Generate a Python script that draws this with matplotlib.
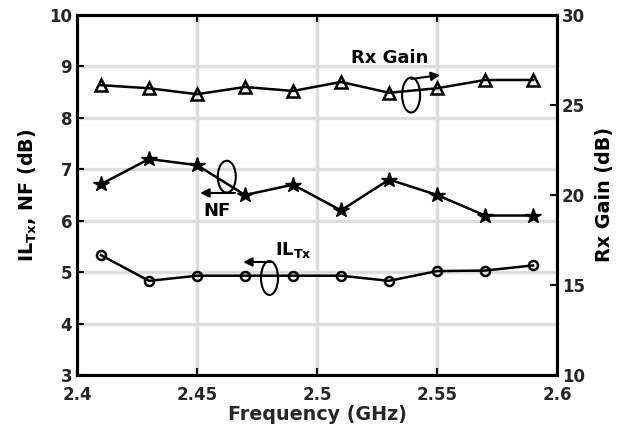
import matplotlib
matplotlib.use("Agg")
import matplotlib.pyplot as plt
from matplotlib.patches import Ellipse

freq = [2.41, 2.43, 2.45, 2.47, 2.49, 2.51, 2.53, 2.55, 2.57, 2.59]
rx_gain = [26.1, 25.93, 25.6, 26.0, 25.78, 26.28, 25.68, 25.93, 26.39, 26.39]
nf = [6.71, 7.2, 7.08, 6.5, 6.7, 6.2, 6.8, 6.5, 6.1, 6.1]
il_tx = [5.33, 4.83, 4.93, 4.93, 4.93, 4.93, 4.83, 5.02, 5.03, 5.13]

xticks = [2.4, 2.45, 2.5, 2.55, 2.6]
xtick_labels = ['2.4', '2.45', '2.5', '2.55', '2.6']
yticks_left = [3, 4, 5, 6, 7, 8, 9, 10]
yticks_right = [10, 15, 20, 25, 30]

plt.rcParams['font.family'] = ['DejaVu Sans']
plt.rcParams['font.weight'] = 'bold'
plt.rcParams['mathtext.default'] = 'bf'

tc = '#262626'
fig = plt.figure(figsize=(6.21, 4.29), dpi=100)
ax = fig.add_axes([0.124, 0.126, 0.773, 0.839])
ax2 = ax.twinx()

ax.set_xlim(2.4, 2.6)
ax.set_ylim(3, 10)
ax2.set_ylim(10, 30)
ax.set_xticks(xticks)
ax.set_xticklabels(xtick_labels)
ax.set_yticks(yticks_left)
ax2.set_yticks(yticks_right)

ax.grid(True, color='#dddddd', lw=2.5, zorder=0)
ax.set_axisbelow(True)

for a in (ax, ax2):
    for s in a.spines.values():
        s.set_linewidth(2.2)
        s.set_color('black')
    a.tick_params(direction='in', length=5, width=1.5, labelsize=12, labelcolor=tc, colors='black')
    for lab in a.get_xticklabels() + a.get_yticklabels():
        lab.set_fontweight('bold')
ax.tick_params(top=True)
ax.tick_params(axis='x', pad=8)

ax.plot(freq, nf, color='k', lw=1.8, marker='*', ms=11.5, mfc='k', mec='k', zorder=5)
ax.plot(freq, il_tx, color='k', lw=1.8, marker='o', ms=6.5, mfc='none', mec='k', mew=1.8, zorder=5)
ax2.plot(freq, rx_gain, color='k', lw=1.8, marker='^', ms=8, mfc='none', mec='k', mew=1.8, zorder=5)

ax.set_xlabel('Frequency (GHz)', fontsize=13.8, fontweight='bold', color=tc, labelpad=1)
ax.set_ylabel(r'IL$_{\mathbf{Tx}}$, NF (dB)', fontsize=13.8, fontweight='bold', color='black', labelpad=7)
ax2.set_ylabel('Rx Gain (dB)', fontsize=13.8, fontweight='bold', color='black', labelpad=7)

# annotations
arrow_kw = dict(arrowstyle='-|>', lw=1.5, color='k', mutation_scale=13, shrinkA=0, shrinkB=0)
ax.add_patch(Ellipse((2.4624, 6.856), 0.0075, 0.62, fill=False, lw=1.5, ec='k', zorder=6))
ax.annotate('', xy=(2.4513, 6.539), xytext=(2.4658, 6.539), arrowprops=arrow_kw, zorder=6)
ax.text(2.4583, 6.19, 'NF', fontsize=13, fontweight='bold', ha='center', va='center')

ax.add_patch(Ellipse((2.4802, 4.886), 0.0071, 0.66, fill=False, lw=1.5, ec='k', zorder=6))
ax.annotate('', xy=(2.4692, 5.197), xytext=(2.4813, 5.197), arrowprops=arrow_kw, zorder=6)
ax.text(2.4825, 5.43, r'IL$_{\mathbf{Tx}}$', fontsize=13, fontweight='bold', ha='left', va='center')

ax.add_patch(Ellipse((2.5392, 8.444), 0.0075, 0.68, fill=False, lw=1.5, ec='k', zorder=6))
ax.annotate('', xy=(2.5513, 8.833), xytext=(2.5392, 8.756), arrowprops=arrow_kw, zorder=6)
ax.text(2.5304, 9.164, 'Rx Gain', fontsize=13, fontweight='bold', ha='center', va='center')

fig.savefig('out.png', dpi=100)
